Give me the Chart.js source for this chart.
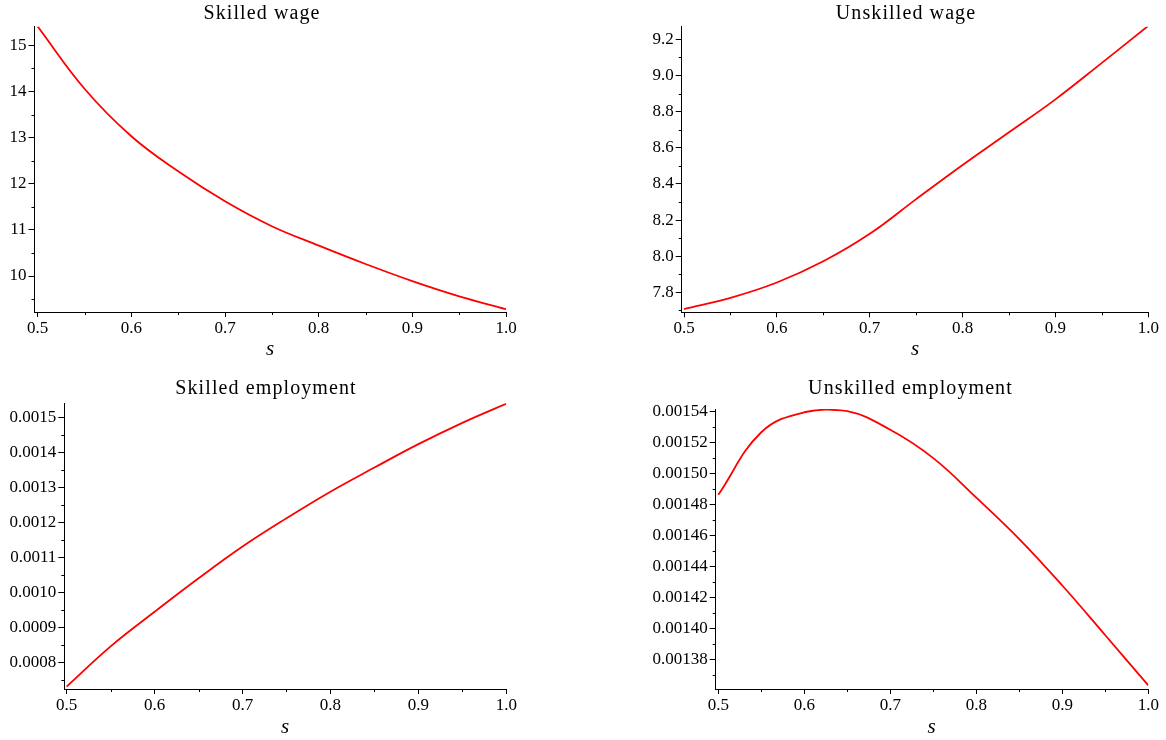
<!DOCTYPE html>
<html>
<head>
<meta charset="utf-8">
<script src="https://cdn.jsdelivr.net/npm/chart.js@4.4.0/dist/chart.umd.min.js"></script>
<style>
  html, body { margin: 0; padding: 0; background: #fff; }
  #wrap { position: relative; width: 1166px; height: 740px; overflow: hidden; }
  canvas { position: absolute; left: 0; top: 0; }
</style>
</head>
<body>
<div id="wrap">
  <canvas id="c1" width="1166" height="740"></canvas>
  <canvas id="c2" width="1166" height="740"></canvas>
  <canvas id="c3" width="1166" height="740"></canvas>
  <canvas id="c4" width="1166" height="740"></canvas>
</div>
<script>
// ---- data ----
const sValues = [0.5, 0.55, 0.6, 0.65, 0.7, 0.75, 0.8, 0.85, 0.9, 0.95, 1.0];
const skilledWage = [15.41, 14.06, 13.03, 12.27, 11.62, 11.08, 10.66, 10.26, 9.89, 9.56, 9.28];
const unskilledWage = [7.708, 7.77, 7.855, 7.972, 8.124, 8.316, 8.505, 8.686, 8.868, 9.07, 9.275];
const skilledEmployment = [0.00073, 0.000845, 0.000944, 0.00104, 0.001131, 0.001212, 0.001288, 0.001357, 0.001424, 0.001485, 0.00154];
const unskilledEmployment = [0.0014863, 0.0015267, 0.0015396, 0.0015403, 0.0015283, 0.0015100, 0.0014845, 0.0014578, 0.0014278, 0.0013957, 0.0013633];

const titles = ["Skilled wage", "Unskilled wage", "Skilled employment", "Unskilled employment"];
const xLabel = "s";

const xTicks = [0.5, 0.6, 0.7, 0.8, 0.9, 1.0];
const xMinor = [0.55, 0.65, 0.75, 0.85, 0.95];
const yTicks1 = [10, 11, 12, 13, 14, 15];
const yMinor1 = [9.5, 10.5, 11.5, 12.5, 13.5, 14.5];
const yTicks2 = [7.8, 8.0, 8.2, 8.4, 8.6, 8.8, 9.0, 9.2];
const yMinor2 = [7.7, 7.9, 8.1, 8.3, 8.5, 8.7, 8.9, 9.1];
const yTicks3 = [0.0008, 0.0009, 0.0010, 0.0011, 0.0012, 0.0013, 0.0014, 0.0015];
const yMinor3 = [0.00075, 0.00085, 0.00095, 0.00105, 0.00115, 0.00125, 0.00135, 0.00145];
const yTicks4 = [0.00138, 0.00140, 0.00142, 0.00144, 0.00146, 0.00148, 0.00150, 0.00152, 0.00154];
const yMinor4 = [0.00137, 0.00139, 0.00141, 0.00143, 0.00145, 0.00147, 0.00149, 0.00151, 0.00153];

const W = 1166, H = 740;
const Y_W = 70, X_H = 40;
const TICK_FONT = { family: "'Liberation Serif', 'DejaVu Serif', serif", size: 17 };

const minorPlugin = {
  id: 'minorTicks',
  afterDraw(chart, args, opts) {
    const ctx = chart.ctx;
    const xs = chart.scales.x, ys = chart.scales.y;
    const a = chart.chartArea;
    ctx.save();
    ctx.strokeStyle = '#000';
    ctx.lineWidth = 1;
    ctx.beginPath();
    (opts.x || []).forEach(v => {
      const px = Math.round(xs.getPixelForValue(v)) + 0.5;
      ctx.moveTo(px, a.bottom); ctx.lineTo(px, a.bottom + 3);
    });
    (opts.y || []).forEach(v => {
      if (v < ys.min || v > ys.max) return;
      const py = Math.round(ys.getPixelForValue(v)) + 0.5;
      ctx.moveTo(a.left, py); ctx.lineTo(a.left - 3, py);
    });
    ctx.stroke();
    // title and axis label
    ctx.fillStyle = '#000';
    ctx.textAlign = 'center';
    ctx.textBaseline = 'alphabetic';
    ctx.font = "20px 'Liberation Serif', serif";
    try { ctx.letterSpacing = '1.1px'; } catch (e) {}
    ctx.fillText(opts.title, opts.titleX, opts.titleY);
    try { ctx.letterSpacing = '0px'; } catch (e) {}
    ctx.font = "italic 21px 'Liberation Serif', serif";
    ctx.fillText(xLabel, opts.sX, opts.sY);
    ctx.restore();
  }
};

function makeChart(id, data, color, area, xRange, yRange, yTicks, yMinor, yDigits, title, titlePos, sPos) {
  const pts = sValues.map((s, i) => ({ x: s, y: data[i] }));
  return new Chart(document.getElementById(id), {
    type: 'line',
    data: { datasets: [{ data: pts, borderColor: color, borderWidth: 1.8, pointRadius: 0, fill: false,
      tension: 0.4, cubicInterpolationMode: 'default' }] },
    plugins: [minorPlugin],
    options: {
      responsive: false, animation: false, events: [],
      layout: { padding: { left: area.left - Y_W, top: area.top, right: W - area.right, bottom: H - area.bottom - X_H } },
      plugins: {
        legend: { display: false }, tooltip: { enabled: false }, title: { display: false },
        minorTicks: { x: xMinor, y: yMinor, title: title, titleX: titlePos[0], titleY: titlePos[1], sX: sPos[0], sY: sPos[1] }
      },
      scales: {
        x: {
          type: 'linear', min: xRange[0], max: xRange[1],
          afterBuildTicks: sc => { sc.ticks = xTicks.map(v => ({ value: v })); },
          afterFit: sc => { sc.height = X_H; },
          ticks: { color: '#000', font: TICK_FONT, padding: 1, maxRotation: 0, autoSkip: false,
            callback: v => Number(v).toFixed(1) },
          grid: { display: true, drawOnChartArea: false, drawTicks: true, tickLength: 5, color: '#000', lineWidth: 1 },
          border: { display: true, color: '#000', width: 1 }
        },
        y: {
          type: 'linear', min: yRange[0], max: yRange[1],
          afterBuildTicks: sc => { sc.ticks = yTicks.map(v => ({ value: v })); },
          afterFit: sc => { sc.width = Y_W; },
          ticks: { color: '#000', font: TICK_FONT, padding: 2, autoSkip: false,
            callback: v => Number(v).toFixed(yDigits) },
          grid: { display: true, drawOnChartArea: false, drawTicks: true, tickLength: 6, color: '#000', lineWidth: 1 },
          border: { display: true, color: '#000', width: 1 }
        }
      }
    }
  });
}

makeChart('c1', skilledWage, '#ff0000', { left: 34.5, right: 506, top: 26.5, bottom: 312 },
  [0.4966, 1.0], [9.22, 15.41], yTicks1, yMinor1, 0, titles[0], [262, 18.5], [270, 355]);
makeChart('c2', unskilledWage, '#ff0000', { left: 681.7, right: 1148.3, top: 26.7, bottom: 312.3 },
  [0.4975, 1.0], [7.69, 9.27], yTicks2, yMinor2, 1, titles[1], [906, 18.5], [915, 355]);
makeChart('c3', skilledEmployment, '#ff0000', { left: 64.3, right: 506.3, top: 403.3, bottom: 689 },
  [0.4973, 1.0], [0.000723, 0.001541], yTicks3, yMinor3, 4, titles[2], [266, 394], [285, 733]);
makeChart('c4', unskilledEmployment, '#ff0000', { left: 715.7, right: 1148.3, top: 409, bottom: 689 },
  [0.497, 1.0], [0.001361, 0.0015417], yTicks4, yMinor4, 5, titles[3], [910.5, 394], [931.7, 733]);
</script>
</body>
</html>
